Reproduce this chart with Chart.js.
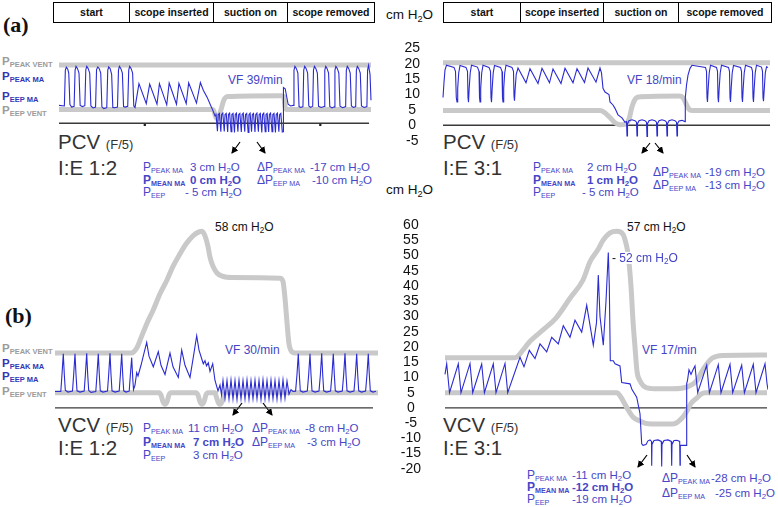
<!DOCTYPE html>
<html>
<head>
<meta charset="utf-8">
<title>Airway pressure during bronchoscopy</title>
<script src="https://cdn.jsdelivr.net/npm/chart.js@4.4.1/dist/chart.umd.min.js"></script>
<style>
  html, body { margin: 0; padding: 0; background: #fff; }
  body { width: 778px; height: 507px; position: relative; overflow: hidden;
         font-family: "Liberation Sans", Arial, sans-serif; }
  canvas { position: absolute; }
  .t { position: absolute; white-space: nowrap; transform: translateY(-50%); line-height: 1; }
  .s { font-size: 0.68em; position: relative; top: 0.28em; }
  .hdr { position: absolute; display: flex; height: 21px; border: 1px solid #000; box-sizing: border-box; }
  .hdr div { border-right: 1px solid #000; box-sizing: border-box; text-align: center;
             font-size: 10.5px; font-weight: bold; line-height: 19px; color: #111; }
  .hdr div:last-child { border-right: none; }
  .panel { font-family: "Liberation Serif", "Times New Roman", serif; font-weight: bold; font-size: 22px; color: #111; }
  .lab { font-weight: bold; font-size: 11.5px; }
  .lab .ls { font-size: 7.5px; position: relative; top: 2px; }
  .grey { color: #9b9b9b; }
  .dblue { color: #3434b4; }
  .mode { font-size: 20.5px; color: #333; }
  .mode small { font-size: 13px; }
  .vf { font-size: 12px; color: #4444c4; }
  .ann { font-size: 11.5px; color: #4646c6; }
  .ann .k { display: inline-block; }
  .ann .p { font-size: 12px; }
  .ann .ks { font-size: 7.2px; position: relative; top: 2px; }
  .ann.b { font-weight: bold; }
  .unit { font-size: 13.5px; color: #111; }
  .blk { font-size: 12px; color: #111; }
  .front { z-index: 5; background: #fff; padding: 0 1px; }
</style>
</head>
<body>

<div class="hdr" id="hdrLeft" style="left:53px;top:2px"></div>
<div class="hdr" id="hdrRight" style="left:443px;top:2px"></div>

<div class="t panel" style="left:3px;top:25px">(a)</div>
<div class="t panel" style="left:5px;top:316px">(b)</div>

<div class="t unit" style="left:386px;top:15px">cm H<span class="s">2</span>O</div>
<div class="t unit" style="left:386px;top:190px">cm H<span class="s">2</span>O</div>

<!-- side labels, panel a -->
<div class="t lab grey" style="left:2px;top:62px">P<span class="ls">PEAK VENT</span></div>
<div class="t lab dblue" style="left:2px;top:77px">P<span class="ls">PEAK MA</span></div>
<div class="t lab dblue" style="left:2px;top:97px">P<span class="ls">EEP MA</span></div>
<div class="t lab grey" style="left:2px;top:111px">P<span class="ls">EEP VENT</span></div>
<!-- side labels, panel b -->
<div class="t lab grey" style="left:2px;top:349px">P<span class="ls">PEAK VENT</span></div>
<div class="t lab dblue" style="left:2px;top:364px">P<span class="ls">PEAK MA</span></div>
<div class="t lab dblue" style="left:2px;top:377px">P<span class="ls">EEP MA</span></div>
<div class="t lab grey" style="left:2px;top:392px">P<span class="ls">EEP VENT</span></div>

<div class="t mode" style="left:58px;top:142px">PCV <small>(F/5)</small></div>
<div class="t mode" style="left:58px;top:168px">I:E 1:2</div>
<div class="t mode" style="left:443px;top:142px">PCV <small>(F/5)</small></div>
<div class="t mode" style="left:443px;top:168px">I:E 3:1</div>
<div class="t mode" style="left:58px;top:425px">VCV <small>(F/5)</small></div>
<div class="t mode" style="left:58px;top:448px">I:E 1:2</div>
<div class="t mode" style="left:443px;top:425px">VCV <small>(F/5)</small></div>
<div class="t mode" style="left:443px;top:448px">I:E 3:1</div>

<div class="t vf" style="left:228px;top:80px">VF 39/min</div>
<div class="t vf" style="left:627px;top:80px">VF 18/min</div>
<div class="t vf" style="left:225px;top:350px">VF 30/min</div>
<div class="t vf" style="left:642px;top:350px">VF 17/min</div>

<div class="t blk" style="left:215px;top:227px">58 cm H<span class="s">2</span>O</div>
<div class="t blk" style="left:627px;top:227px">57 cm H<span class="s">2</span>O</div>
<div class="t vf front" style="left:611px;top:258px"><span style="color:#111">-</span> 52 cm H<span class="s">2</span>O</div>

<!-- summary values, top left -->
<div class="t ann" style="left:143px;top:167px"><span class="k" style="width:47px"><span class="p">P</span><span class="ks">PEAK MA</span></span>3 cm H<span class="s">2</span>O</div>
<div class="t ann b" style="left:143px;top:180px"><span class="k" style="width:47px"><span class="p">P</span><span class="ks">MEAN MA</span></span>0 cm H<span class="s">2</span>O</div>
<div class="t ann" style="left:143px;top:192px"><span class="k" style="width:42px"><span class="p">P</span><span class="ks">EEP</span></span>- 5 cm H<span class="s">2</span>O</div>
<div class="t ann" style="left:257px;top:167px"><span class="k" style="width:53px"><span class="p">ΔP</span><span class="ks">PEAK MA</span></span>-17 cm H<span class="s">2</span>O</div>
<div class="t ann" style="left:257px;top:180px"><span class="k" style="width:55px"><span class="p">ΔP</span><span class="ks">EEP MA</span></span>-10 cm H<span class="s">2</span>O</div>
<!-- top right -->
<div class="t ann" style="left:533px;top:167px"><span class="k" style="width:54px"><span class="p">P</span><span class="ks">PEAK MA</span></span>2 cm H<span class="s">2</span>O</div>
<div class="t ann b" style="left:533px;top:180px"><span class="k" style="width:54px"><span class="p">P</span><span class="ks">MEAN MA</span></span>1 cm H<span class="s">2</span>O</div>
<div class="t ann" style="left:533px;top:192px"><span class="k" style="width:49px"><span class="p">P</span><span class="ks">EEP</span></span>- 5 cm H<span class="s">2</span>O</div>
<div class="t ann" style="left:653px;top:172px"><span class="k" style="width:52px"><span class="p">ΔP</span><span class="ks">PEAK MA</span></span>-19 cm H<span class="s">2</span>O</div>
<div class="t ann" style="left:653px;top:185px"><span class="k" style="width:52px"><span class="p">ΔP</span><span class="ks">EEP MA</span></span>-13 cm H<span class="s">2</span>O</div>
<!-- bottom left -->
<div class="t ann" style="left:143px;top:428px"><span class="k" style="width:45px"><span class="p">P</span><span class="ks">PEAK MA</span></span>11 cm H<span class="s">2</span>O</div>
<div class="t ann b" style="left:143px;top:442px"><span class="k" style="width:50px"><span class="p">P</span><span class="ks">MEAN MA</span></span>7 cm H<span class="s">2</span>O</div>
<div class="t ann" style="left:143px;top:455px"><span class="k" style="width:50px"><span class="p">P</span><span class="ks">EEP</span></span>3 cm H<span class="s">2</span>O</div>
<div class="t ann" style="left:252px;top:428px"><span class="k" style="width:53px"><span class="p">ΔP</span><span class="ks">PEAK MA</span></span>-8 cm H<span class="s">2</span>O</div>
<div class="t ann" style="left:252px;top:442px"><span class="k" style="width:55px"><span class="p">ΔP</span><span class="ks">EEP MA</span></span>-3 cm H<span class="s">2</span>O</div>
<!-- bottom right -->
<div class="t ann" style="left:527px;top:475px"><span class="k" style="width:45px"><span class="p">P</span><span class="ks">PEAK MA</span></span>-11 cm H<span class="s">2</span>O</div>
<div class="t ann b" style="left:527px;top:487px"><span class="k" style="width:45px"><span class="p">P</span><span class="ks">MEAN MA</span></span>-12 cm H<span class="s">2</span>O</div>
<div class="t ann" style="left:527px;top:499px"><span class="k" style="width:45px"><span class="p">P</span><span class="ks">EEP</span></span>-19 cm H<span class="s">2</span>O</div>
<div class="t ann" style="left:662px;top:478px"><span class="k" style="width:49px"><span class="p">ΔP</span><span class="ks">PEAK MA</span></span>-28 cm H<span class="s">2</span>O</div>
<div class="t ann" style="left:662px;top:493px"><span class="k" style="width:53px"><span class="p">ΔP</span><span class="ks">EEP MA</span></span>-25 cm H<span class="s">2</span>O</div>

<svg width="778" height="507" style="position:absolute;left:0;top:0;pointer-events:none">
  <defs>
    <marker id="ah" markerWidth="7" markerHeight="7" refX="6" refY="3.5" orient="auto" markerUnits="userSpaceOnUse">
      <path d="M0,0 L7,3.5 L0,7 z" fill="#000"/>
    </marker>
  </defs>
  <g stroke="#000" stroke-width="1.2" marker-end="url(#ah)">
    <line x1="240" y1="142" x2="232" y2="153"/>
    <line x1="257" y1="142" x2="265" y2="153"/>
    <line x1="650" y1="143" x2="642" y2="153"/>
    <line x1="655" y1="143" x2="663" y2="153"/>
    <line x1="242" y1="403" x2="233" y2="415"/>
    <line x1="263" y1="403" x2="272" y2="415"/>
    <line x1="647" y1="455" x2="638" y2="467"/>
    <line x1="687" y1="455" x2="695" y2="467"/>
  </g>
</svg>

<canvas id="tl" width="320" height="117" style="left:55px;top:36px"></canvas>
<canvas id="tr" width="380" height="117" style="left:390px;top:36px"></canvas>
<canvas id="bl" width="323" height="268" style="left:55px;top:213px"></canvas>
<canvas id="br" width="378" height="268" style="left:390px;top:213px"></canvas>

<script>
// phases of the procedure (column headers)
const phases = ['start', 'scope inserted', 'suction on', 'scope removed']

// pressure axis ticks, cm H2O
const topTicks = [-5, 0, 5, 10, 15, 20, 25]
const bottomTicks = [-20, -15, -10, -5, 0, 5, 10, 15, 20, 25, 30, 35, 40, 45, 50, 55, 60]

// (a) PCV I:E 1:2 -- [time, cm H2O]
const tlAirway = [
    [0,6.2],[5.5,6],[6.5,18.5],[7.5,19.5],[9,18.8],[10,17.5],[11.2,6.5],[13,5.6],[15.5,5.9],
    [16.5,18.5],[17.5,19.8],[19,19],[20.5,17.5],[21.7,6.2],[24,5.8],[26.5,6.1],
    [27.5,18.7],[28.5,19.8],[30,19],[31.5,17.5],[32.7,6],[35,5.3],[37.5,5.6],
    [38.5,18.7],[39.8,19.6],[41.3,19],[42.8,17.5],[44,5.7],[46,5.1],[49,5.4],
    [50,18.5],[51,19.6],[52.5,19],[54,17],[55.2,5.5],[57,5.4],[60,5.6],
    [61,18.5],[62,19.8],[63.5,19],[65,17.5],[66.2,5.8],[68,5.6],[70.5,5.9],
    [71.5,18.5],[72.5,19.8],[74,19],[75.5,17.5],[76.7,6],[78,5.5],
    [82,13.8],[89.5,6.8],[93,13.6],[100.5,6.6],[103,13.8],[110.5,6.4],[113,14],[120.5,6.6],
    [123,13.9],[130.5,6.8],[133,14.1],[141,7],[145,14.2],[148,11.5],[152,9],[155,6.6],[158,4.3],[160,2.5],
    [161,3.4],[162.5,-2.8],[163.3,3],[164.5,3.4],[166,-3],[166.8,3],[168,3.5],[169.5,-2.9],[170.3,3],
    [171.5,3.4],[173,-3.1],[173.8,3],[175,3.5],[176.5,-3],[177.3,3],[178.5,3.4],[180,-3.2],[180.8,3],
    [182,3.5],[183.5,-3],[184.3,3],[185.5,3.4],[187,-3.1],[187.8,3],[189,3.5],[190.5,-3],[191.3,3],
    [192.5,3.4],[194,-3.2],[194.8,3],[196,3.5],[197.5,-3],[198.3,3],[199.5,3.4],[201,-3.1],[201.8,3],
    [203,3.5],[204.5,-3],[205.3,3],[206.5,3.4],[208,-3.2],[208.8,3],[210,3.5],[211.5,-3],[212.3,3],
    [213.5,3.4],[215,-3.1],[215.8,3],[217,3.5],[218.5,-3],[219.3,3],[220.5,3.4],[222,-3.2],[222.8,3],
    [224,3.5],[225.5,-3],[226.3,3],[227.5,3.4],[229,-3.1],[229.8,-3],
    [230.2,12.4],[232,12],[235,6.6],[237.5,6],[240.2,6.2],
    [241,18.5],[242,19.8],[243.5,19],[245,17.5],[246.2,5.8],[248,5.5],[250.2,5.8],
    [251,18.5],[252,19.8],[253.5,19],[255,17.5],[256.2,6],[258,5.5],[260.2,5.9],
    [261,18.5],[262,19.8],[263.5,19],[265,17.5],[266.2,5.9],[269,5.5],[271.8,5.8],
    [272.6,18.5],[273.6,19.8],[275,19],[276.5,17.5],[277.7,5.8],[280,5.3],[282.3,5.7],
    [283,18.5],[284,19.8],[285.5,19],[287,17.5],[288.2,5.9],[291,5.4],[294,5.8],
    [294.7,18.5],[295.7,19.8],[297.2,19],[298.7,17.5],[299.9,6],[302,5.5],[304.3,5.8],
    [305,18.5],[306,19.8],[307.5,19],[309,17.5],[310.2,6],[313,5.5],[315.8,5.8],
    [316.5,18.5],[317.5,20.2],[319,17],[320,8]
]
const tlVentPeak = [[0,20.3],[320,20.3]]
const tlVentPeep = [[0,4.8],[158,4.8],[161,2],[163,1.5],[166,4.5],[169,8],[173,9.3],[228,9.6],[230.5,9.3],[232,5.5],[233.5,4.8],[320,4.8]]
const tlZero = [[0,0],[318,0]]
const tlMarks = [[88,-0.6],[268,-0.6]]

// (a) PCV I:E 3:1
const trAirway = [
    [0,9],[1,14],[2,18],[3.5,19.5],[11,18.8],[12.5,17.5],[13.3,9],[14,7.6],
    [14.7,12],[15.7,17],[17,19.4],[23,18.8],[24.5,17.5],[25,9],[25.5,7.5],
    [26.2,12],[27.2,17],[28.5,19.5],[34.5,18.9],[36,17.5],[36.5,9],[37,7.6],
    [37.7,12],[38.7,17],[40,19.5],[46,18.8],[47.5,17.5],[48,9],[48.5,7.5],
    [49.2,12],[50.2,17],[51.5,19.4],[57.5,18.8],[59,17.5],[59.5,9],[60,7.6],
    [60.7,12],[61.7,17],[63,19.5],[69,18.8],[70.5,17.5],[71,9.5],[71.5,8],
    [72.2,12],[73.2,16.5],[75,18.6],[83,13.8],[87,18.4],[95,13.6],[99,18.5],[106.5,13.8],
    [110,18.3],[118,13.6],[122,18.5],[130,13.8],[134,18.4],[141.5,13.9],[145,18.6],[153,14],
    [157,18.6],[158.5,17],[160,12],[162,10.8],[166,10],[167,7.6],[170,6.6],[172,5.5],[175,3.4],[179,2.4],[182,1],
    [183.5,1.2],[184,-3.5],[184.5,0.5],[186,1.5],[189,1.8],[192,1.5],[193.5,1],
    [194,-3.5],[194.5,0.5],[196,1.5],[199,1.8],[202,1.5],[203.5,1],
    [204,-3.6],[204.5,0.5],[206,1.5],[209,1.8],[212,1.5],[213.5,1],
    [214,-3.5],[214.5,0.5],[216,1.5],[219,1.8],[222,1.5],[223.5,1],
    [224,-3.5],[224.5,0.5],[226,1.5],[229,1.8],[232,1.5],[233.5,1],
    [234,-3.5],[234.5,0.5],[236,1.4],[239,1.6],[242,1.2],
    [242.3,9],[243.5,13],[245,16.3],[247,18.5],[249,19.5],
    [262.5,18.8],[263.5,17.5],[264,9],[264.5,7.6],[265.2,12],[266.2,17],[267.5,19.5],
    [273.5,18.8],[274.5,17.5],[275,9],[275.5,7.5],[276.2,12],[277.2,17],[278.5,19.5],
    [285.5,18.8],[286.5,17.5],[287,9],[287.5,7.6],[288.2,12],[289.2,17],[290.5,19.4],
    [297.5,18.8],[298.5,17.5],[299,9],[299.5,7.6],[300.2,12],[301.2,17],[302.5,19.5],
    [308.5,18.8],[309.5,17.5],[310,9],[310.5,7.6],[311.2,12],[312.2,17],[313.5,19.5],
    [318.5,18.9],[319.5,17.5],[320,9],[320.5,7.8],[321.3,12],[322.3,17],[323.5,19],[325,18.8]
]
const trVentPeak = [[0,20.3],[327,20.3]]
const trVentPeep = [[0,4.8],[157,4.8],[161,4.3],[167,2.5],[172,0.8],[177,0.2],[182,0.3],[186,2],[189,6],[193,8.8],[198,9.3],[236,9.5],[240,9],[243,7],[246,5.2],[249,4.8],[327,4.8]]
const trZero = [[0,0],[327,0]]

// (b) VCV I:E 1:2
const blAirway = [
    [0,5.4],[5.8,5.4],[7,11],[8.3,17.8],[9.3,11],[10.3,5.8],[13,5.2],[17.5,5.5],
    [18.7,11],[20,17.8],[21,11],[22,5.6],[25,5.2],[29.2,5.5],
    [30.4,11],[31.7,17.9],[32.7,11],[33.7,5.7],[36,5.1],[40.8,5.4],
    [42,11],[43.3,17.8],[44.3,11],[45.3,5.6],[48,5.2],[52.5,5.5],
    [53.7,11],[55,17.9],[56,11],[57,5.6],[60,5.2],[64.2,5.5],
    [65.4,11],[66.7,17.8],[67.7,11],[68.7,5.6],[71,5.2],[74.2,5.5],
    [75.4,11],[76.7,16.5],[77.7,10],[78.5,6],
    [80,7.5],[81.7,11.6],[83,10.5],[86,14],[89,18],[91.7,21.5],[94,17],[98.3,13.5],[103.3,18.5],[106,14],
    [110,11],[115,18],[118,13.5],[123.3,10],[126.7,19],[130,14],[135,10],[138,16],[141.7,23.7],[144,19],
    [148.3,14.5],[150,15.5],[151.5,13.8],[153.3,14.8],[155,12],[157.7,14.5],[160,9],[163,5.6],[165,7.5],[166.5,4.3],
    [168,9],[170,3.2],[172,9],[174,3],[176,9.2],[178,3],[180,9],[182,2.8],[184,9.1],[186,3],[188,9],[190,3],
    [192,9.2],[194,2.9],[196,9],[198,3],[200,9.1],[202,3],[204,9],[206,2.8],[208,9.2],[210,3],[212,9],[214,3],
    [216,9.1],[218,3],[220,9],[222,2.9],[224,9],[226,3],[228,9.2],[230,3.2],[232,8.8],[234,4.5],[236,6],[238,5.4],
    [240.6,5.5],[242,11],[243.3,17.8],[244.3,11],[245.3,5.6],[248,5.2],
    [252.3,5.5],[253.7,11],[255,17.8],[256,11],[257,5.6],[260,5.2],
    [264,5.5],[265.4,11],[266.7,17.9],[267.7,11],[268.7,5.6],[271.5,5.2],
    [275.6,5.5],[277,11],[278.3,17.8],[279.3,11],[280.3,5.6],[283,5.2],
    [287.3,5.5],[288.7,11],[290,17.9],[291,11],[292,5.6],[295,5.2],
    [299,5.5],[300.4,11],[301.7,17.8],[302.7,11],[303.7,5.6],[306.5,5.2],
    [310.6,5.5],[312,11],[313.3,17.8],[314.3,11],[315.3,5.6],[318,5.2],[321,5.5]
]
const blVentPeak = [[0,18],[76,18],[79,18.5],[82,19.8],[86,23],[92,27.8],[98,32],[105,37.5],[112,42],[118,46.5],
    [125,50.6],[131,53.8],[138,56.5],[144,57.8],[147,58],[150,56.5],[153,53],[155,49.5],[158,46.5],[162,44.3],
    [167,43.3],[178,42.8],[225,42.6],[228,41.5],[230,36],[232,28],[234,21],[236,18.8],[240,18],[323,18]]
const blVentPeep = [[0,5],[104,5],[106,4.2],[108,2],[110,1.2],[112,2],[114,4.3],[116,5],[141,5],[143,4.2],[145,2],
    [147,1.2],[149,2],[151,4.3],[153,5],[160,5],[161,4],[163,2],[165,1.2],[167,2],[169,4.3],[171,5],[323,5]]
const blZero = [[0,0],[318,0]]

// (b) VCV I:E 3:1
const brAirway = [
    [2,11],[3.7,14.5],[6.5,5],[15.3,14.5],[18,5],[27,14.6],[29.7,5],[38.7,14.4],[41.4,5],
    [50.3,14.5],[53,5],[62,14.6],[64.7,5],
    [77,16.6],[81,13.5],[86.3,18.9],[92,16.2],[97,21],[103.7,18.4],[108.7,23.2],[115.3,21],[120.3,27],
    [127,23.2],[132,28.8],[138.7,24.9],[143.7,33.7],[150.3,20.6],[153.5,28],[155.3,43.6],[157,30],[160.3,20.6],
    [163,35],[165.3,51],[166.3,40],[167.3,15.5],[170.3,15.5],[172,14.5],[177,13.8],[178.7,8.3],[187,7.9],
    [189,6],[193.7,3.5],[197,-1.9],[198.7,-11.8],
    [200,-12.3],[203,-12],[205,-10.8],[207,-10.5],[208.5,-11],[208.7,-19],[209,-12],[211,-10.7],[215,-10.5],
    [218.3,-11],[218.7,-19.2],[219,-12],[221,-10.7],[225,-10.5],[228.3,-11],[228.7,-19],[229,-12],[231,-10.7],
    [234,-10.6],[236.7,-11],[237,-18.8],[237.3,-12.3],[243.5,-12.3],
    [243.7,8],[244.5,9],[246,12.5],[248,11],[250,12.5],[252,13.8],[254.7,5],
    [263.7,14],[266.4,5],[275.3,14.2],[278,5],[287,14.3],[289.7,5],[298.7,14],[301.4,5],
    [310.3,14.3],[313,5],[322,14.5],[324,8],[325,6]
]
const brVentPeak = [[2,16.5],[72,16.5],[75,17],[80,19],[86,21.5],[100,25.6],[113,29.5],[127,36],[140,42],[147,48],
    [155,52],[160,55],[167,57.5],[174,58],[180,57],[183,54],[185,50.6],[188,40],[190,28.6],[192,20],[194,12],
    [197,8.9],[204,6.6],[215,6.3],[230,6.3],[245,7],[254,9],[259,12],[264,14.5],[269,16.3],[280,17.2],[324,17.4]]
const brVentPeep = [[2,5],[174,5],[177,4],[184,0],[190,-3],[197,-4.3],[205,-5.2],[214,-5.3],[230,-5.3],[240,-3],
    [244,-1],[248,1.5],[254,3.3],[258,4.5],[262,5],[324,5]]
const brZero = [[2,0],[324,0]]

const FONT = '"Liberation Sans", Arial, sans-serif'
const LINE_BLUE = '#2b2bd2'
const VENT_GREY = '#c9c9c9'

function buildHeader(el, widths) {
    phases.forEach((p, i) => {
        const d = document.createElement('div')
        d.style.width = widths[i] + 'px'
        d.textContent = p
        el.appendChild(d)
    })
}
buildHeader(document.getElementById('hdrLeft'), [76, 84, 74, 86])
buildHeader(document.getElementById('hdrRight'), [77, 83, 75, 92])

function drawPanel(id, cfg) {
    const showAxis = !!cfg.ticks
    return new Chart(document.getElementById(id), {
        type: 'line',
        data: {
            datasets: [
                {data: cfg.airway, borderColor: LINE_BLUE, borderWidth: 1.1, pointRadius: 0, tension: 0, clip: 6},
                {data: cfg.marks || [], showLine: false, pointRadius: 1.6, pointStyle: 'rect',
                    backgroundColor: '#222', borderWidth: 0},
                {data: cfg.ventPeak, borderColor: VENT_GREY, borderWidth: 5, pointRadius: 0,
                    cubicInterpolationMode: 'monotone', clip: 6},
                {data: cfg.ventPeep, borderColor: VENT_GREY, borderWidth: 5, pointRadius: 0,
                    cubicInterpolationMode: 'monotone', clip: 6},
                {data: cfg.zero, borderColor: '#3a3a3a', borderWidth: 1.4, pointRadius: 0}
            ]
        },
        options: {
            responsive: false,
            animation: false,
            events: [],
            layout: {padding: 0},
            plugins: {legend: {display: false}, tooltip: {enabled: false}},
            scales: {
                x: {type: 'linear', display: false, min: 0, max: cfg.tMax},
                y: {
                    type: 'linear',
                    display: showAxis,
                    position: 'left',
                    min: cfg.yMin,
                    max: cfg.yMax,
                    grid: {display: false, drawTicks: false},
                    border: {display: false},
                    ticks: {
                        autoSkip: false,
                        crossAlign: 'center',
                        padding: cfg.pad || 0,
                        color: '#111',
                        font: {family: FONT, size: 14}
                    },
                    afterBuildTicks: (axis) => {
                        axis.ticks = (cfg.ticks || []).map(v => ({value: v}))
                    },
                    afterFit: (axis) => {
                        if (showAxis) axis.width = 53
                        axis.paddingTop = 0
                        axis.paddingBottom = 0
                    }
                }
            }
        }
    })
}

drawPanel('tl', {airway: tlAirway, ventPeak: tlVentPeak, ventPeep: tlVentPeep, zero: tlZero, marks: tlMarks,
    tMax: 320, yMin: -9, yMax: 29})
drawPanel('tr', {airway: trAirway, ventPeak: trVentPeak, ventPeep: trVentPeep, zero: trZero,
    tMax: 327, yMin: -9, yMax: 29, ticks: topTicks, pad: 23})
drawPanel('bl', {airway: blAirway, ventPeak: blVentPeak, ventPeep: blVentPeep, zero: blZero,
    tMax: 323, yMin: -24, yMax: 64})
drawPanel('br', {airway: brAirway, ventPeak: brVentPeak, ventPeep: brVentPeep, zero: brZero,
    tMax: 325, yMin: -24, yMax: 64, ticks: bottomTicks, pad: 22})
</script>
</body>
</html>
